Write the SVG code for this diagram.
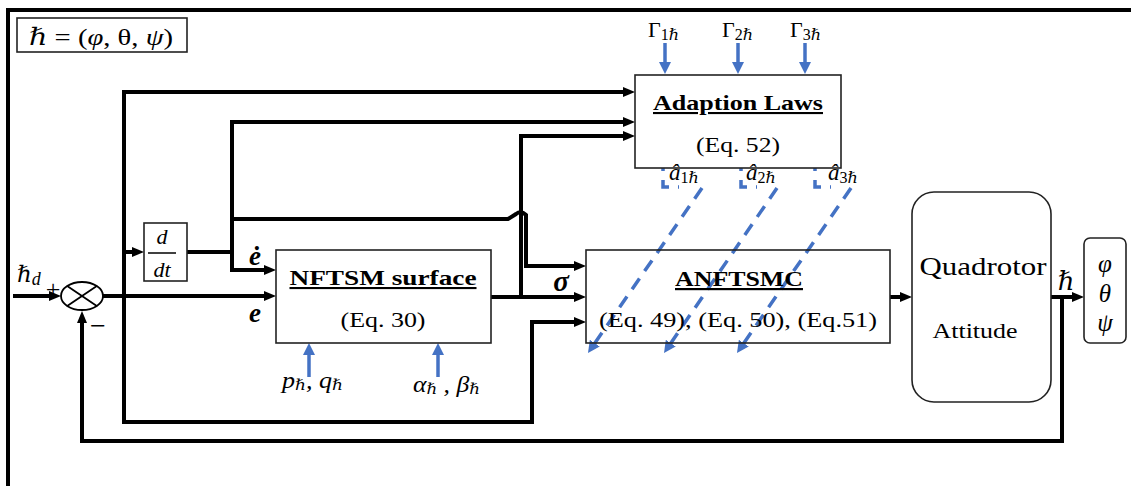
<svg xmlns="http://www.w3.org/2000/svg" width="1131" height="486" viewBox="0 0 1131 486">
<defs>
<style>
.box{fill:#fff;stroke:#222;stroke-width:1.6}
.w{fill:none;stroke:#000;stroke-width:4}
.b{fill:none;stroke:#4472C4;stroke-width:3.5}
.d{fill:none;stroke:#4472C4;stroke-width:3.5;stroke-dasharray:13 9}
.t{font-family:"Liberation Serif","DejaVu Serif",serif;fill:#000}
.m{font-family:"Liberation Serif","DejaVu Serif",serif;font-style:italic;fill:#000}
.h{font-family:"Liberation Serif","DejaVu Serif",serif;font-weight:bold;text-decoration:underline;fill:#000}
</style>
<marker id="ah" markerUnits="userSpaceOnUse" viewBox="0 0 12 10" markerWidth="12" markerHeight="10" refX="6" refY="5" orient="auto"><path d="M0,0 L12,5 L0,10 z" fill="#000"/></marker>
<marker id="bh" markerUnits="userSpaceOnUse" viewBox="0 0 12 12" markerWidth="12" markerHeight="12" refX="6" refY="6" orient="auto"><path d="M0,0 L12,6 L0,12 z" fill="#4472C4"/></marker>
</defs>
<rect width="1131" height="486" fill="#fff"/>
<path d="M8,486 V10 H1131" class="w"/>

<g id="legend">
<rect x="17" y="18" width="170" height="34" class="box"/>
<text x="29" y="45" class="t" font-size="24" textLength="144" lengthAdjust="spacingAndGlyphs"><tspan font-style="italic">ℏ</tspan> = (<tspan font-style="italic">φ</tspan>, θ, <tspan font-style="italic">ψ</tspan>)</text>
</g>

<g id="connectors">
<path d="M13,296 H55" class="w" marker-end="url(#ah)"/>
<path d="M103,296 H270" class="w" marker-end="url(#ah)"/>
<path d="M124,422 V92 H629" class="w" marker-end="url(#ah)"/>
<path d="M124,420 V422 H532 V322 H580" class="w" marker-end="url(#ah)"/>
<path d="M124,252 H138" class="w" marker-end="url(#ah)"/>
<path d="M187,252 H232" class="w"/>
<path d="M232,270 V122 H629" class="w" marker-end="url(#ah)"/>
<path d="M232,252 V270 H270" class="w" marker-end="url(#ah)"/>
<path d="M232,219 H508 L516,214 Q521,210 526,215 V266 H580" class="w" marker-end="url(#ah)"/>
<path d="M491,297 H580" class="w" marker-end="url(#ah)"/>
<path d="M521,297 V136 H629" class="w" marker-end="url(#ah)"/>
<path d="M890,297 H906" class="w" marker-end="url(#ah)"/>
<path d="M1051,297 H1078" class="w" marker-end="url(#ah)"/>
<path d="M1062,297 V441 H82 V317" class="w" marker-end="url(#ah)"/>
<path d="M665,43 V68" class="b" marker-end="url(#bh)"/>
<path d="M738,43 V68" class="b" marker-end="url(#bh)"/>
<path d="M805,43 V68" class="b" marker-end="url(#bh)"/>
<path d="M309,377 V349" class="b" marker-end="url(#bh)"/>
<path d="M438,377 V349" class="b" marker-end="url(#bh)"/>
<path d="M663,158 V187 H679" class="d"/>
<path d="M741,158 V187 H757" class="d"/>
<path d="M815,158 V187 H831" class="d"/>
<path d="M702,188 L591.4,348.1" class="d" marker-end="url(#bh)"/>
<path d="M777,188 L667.4,348.1" class="d" marker-end="url(#bh)"/>
<path d="M851,188 L740.4,348.1" class="d" marker-end="url(#bh)"/>
</g>

<g id="sum">
<ellipse cx="82" cy="296" rx="21" ry="14" fill="#fff" stroke="#000" stroke-width="1.8"/>
<path d="M67.2,286.1 L96.8,305.9 M67.2,305.9 L96.8,286.1" stroke="#000" stroke-width="1.8"/>
<text x="17" y="282" class="m" font-size="23">ℏ<tspan font-size="18" dy="3">d</tspan></text>
<text x="53" y="298" text-anchor="middle" class="t" font-size="26">+</text>
<text x="98" y="335" text-anchor="middle" class="t" font-size="28">−</text>
</g>

<g id="ddt">
<rect x="144" y="223" width="43" height="58" class="box"/>
<text x="162" y="244" text-anchor="middle" class="m" font-size="22">d</text>
<line x1="148" y1="253" x2="176" y2="253" stroke="#000" stroke-width="1.5"/>
<text x="162" y="277" text-anchor="middle" class="m" font-size="22">dt</text>
</g>

<g id="nftsm">
<rect x="276" y="250" width="215" height="93" class="box"/>
<text x="383" y="285" text-anchor="middle" class="h" font-size="21" textLength="187" lengthAdjust="spacingAndGlyphs">NFTSM  surface</text>
<text x="383" y="327" text-anchor="middle" class="t" font-size="21" textLength="85" lengthAdjust="spacingAndGlyphs">(Eq. 30)</text>
<text x="255" y="265" text-anchor="middle" class="m" font-weight="bold" font-size="27">ė</text>
<text x="255" y="322" text-anchor="middle" class="m" font-weight="bold" font-size="27">e</text>
<text x="282" y="388" class="m" font-size="23" textLength="61" lengthAdjust="spacingAndGlyphs">p<tspan font-size="15" dy="2">ℏ</tspan><tspan dy="-2">, q</tspan><tspan font-size="15" dy="2">ℏ</tspan></text>
<text x="413" y="392" class="m" font-size="23" textLength="67" lengthAdjust="spacingAndGlyphs">α<tspan font-size="15" dy="2">ℏ</tspan><tspan dy="-2"> , β</tspan><tspan font-size="15" dy="2">ℏ</tspan></text>
</g>

<g id="adaption">
<rect x="635" y="75" width="206" height="93" class="box"/>
<text x="738" y="110" text-anchor="middle" class="h" font-size="21" textLength="170" lengthAdjust="spacingAndGlyphs">Adaption Laws</text>
<text x="738" y="152" text-anchor="middle" class="t" font-size="21" textLength="84" lengthAdjust="spacingAndGlyphs">(Eq. 52)</text>
<text x="648" y="37" class="t" font-size="22">Γ<tspan font-size="16" dy="3">1</tspan><tspan font-size="16" font-style="italic">ℏ</tspan></text>
<text x="722" y="37" class="t" font-size="22">Γ<tspan font-size="16" dy="3">2</tspan><tspan font-size="16" font-style="italic">ℏ</tspan></text>
<text x="790" y="37" class="t" font-size="22">Γ<tspan font-size="16" dy="3">3</tspan><tspan font-size="16" font-style="italic">ℏ</tspan></text>
<text x="669" y="180" class="m" font-size="23">â<tspan font-size="16" dy="3" font-style="normal">1</tspan><tspan font-size="16">ℏ</tspan></text>
<text x="746" y="180" class="m" font-size="23">â<tspan font-size="16" dy="3" font-style="normal">2</tspan><tspan font-size="16">ℏ</tspan></text>
<text x="828" y="180" class="m" font-size="23">â<tspan font-size="16" dy="3" font-style="normal">3</tspan><tspan font-size="16">ℏ</tspan></text>
</g>

<g id="anftsmc">
<rect x="586" y="250" width="304" height="93" class="box" fill-opacity="0"/>
<text x="739" y="286" text-anchor="middle" class="h" font-size="22" textLength="128" lengthAdjust="spacingAndGlyphs">ANFTSMC</text>
<text x="738" y="327" text-anchor="middle" class="t" font-size="22" textLength="278" lengthAdjust="spacingAndGlyphs">(Eq. 49), (Eq. 50), (Eq.51)</text>
<text x="561" y="291" text-anchor="middle" class="m" font-weight="bold" font-size="29">σ</text>
</g>

<g id="quadrotor">
<rect x="912" y="192" width="139" height="210" rx="22" class="box"/>
<text x="983" y="275" text-anchor="middle" class="t" font-size="26" textLength="127" lengthAdjust="spacingAndGlyphs">Quadrotor</text>
<text x="975" y="338" text-anchor="middle" class="t" font-size="22" textLength="85" lengthAdjust="spacingAndGlyphs">Attitude</text>
<text x="1066" y="290" text-anchor="middle" class="m" font-size="26">ℏ</text>
</g>

<g id="output">
<rect x="1084" y="238" width="42" height="105" rx="6" class="box"/>
<text x="1105" y="272" text-anchor="middle" class="m" font-size="25">φ</text>
<text x="1105" y="302" text-anchor="middle" class="m" font-size="25">θ</text>
<text x="1105" y="331" text-anchor="middle" class="m" font-size="25">ψ</text>
</g>
</svg>
